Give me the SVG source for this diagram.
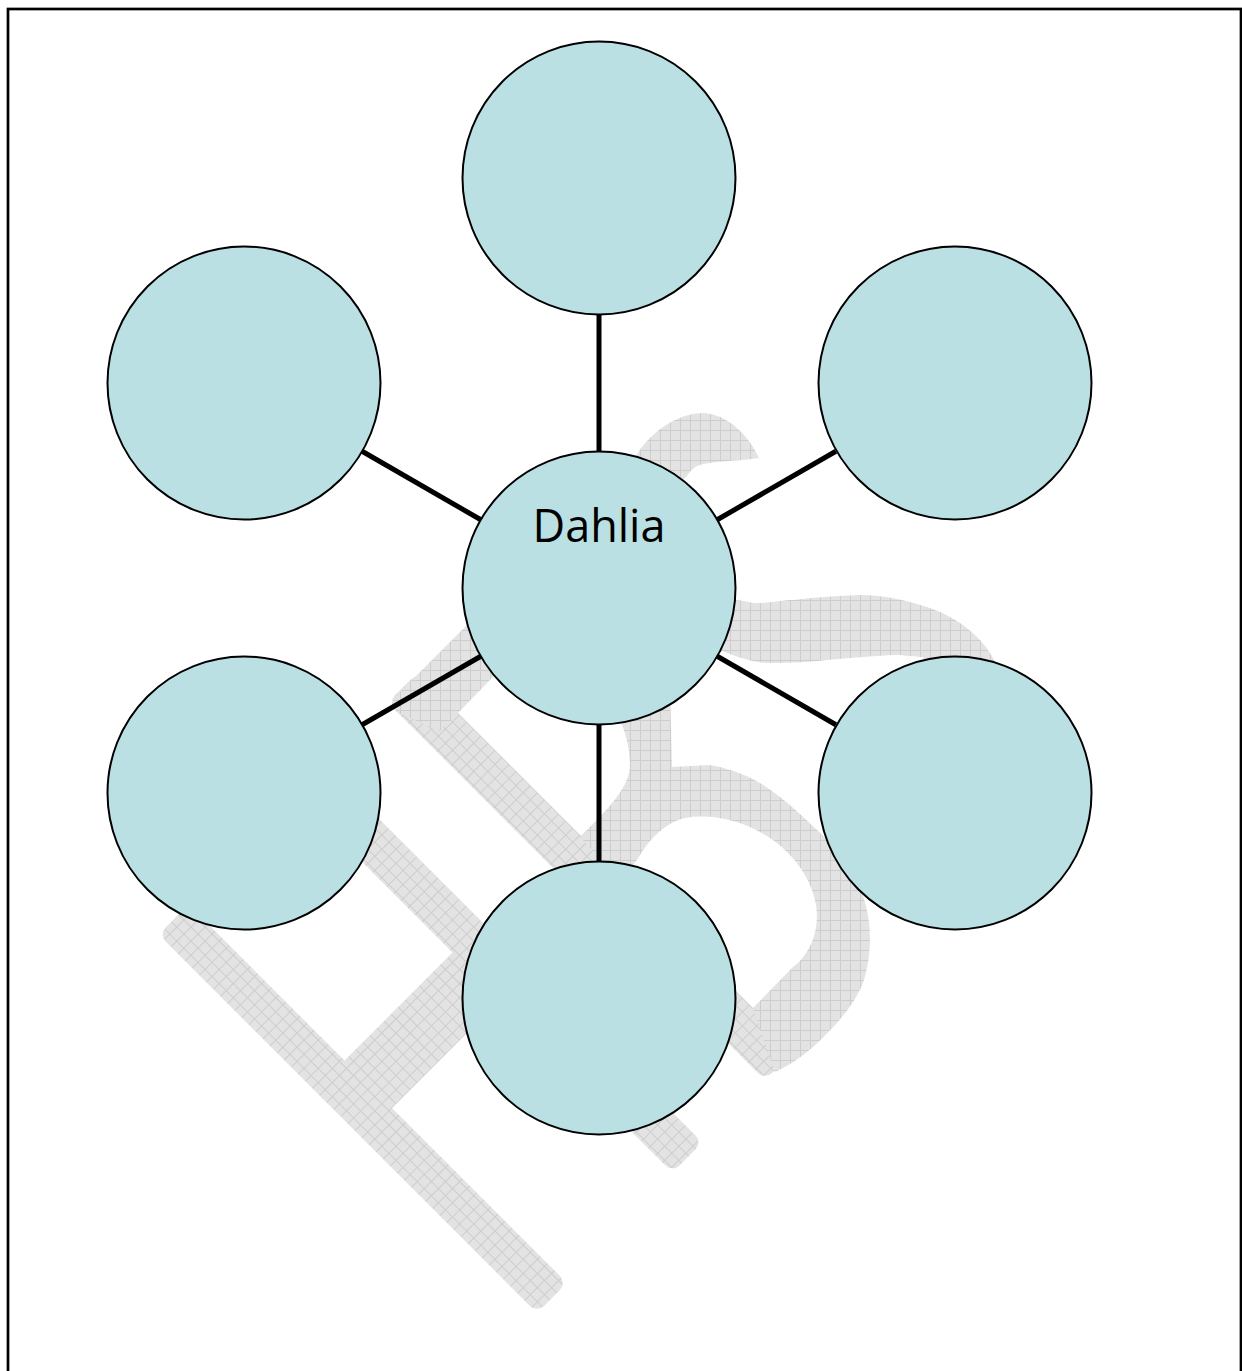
<svg xmlns="http://www.w3.org/2000/svg" width="1242" height="1371" viewBox="0 0 1242 1371">
<style>
.node{fill:#BBE0E3;stroke:#000;stroke-width:2}
.conn{stroke:#000;stroke-width:5;fill:none}
.wm{fill:url(#grid)}
.lbl{font-family:"Open Sans","Noto Sans","Liberation Sans",sans-serif;font-size:45px;fill:#000}
</style>
<defs>
<pattern id="grid" patternUnits="userSpaceOnUse" width="10" height="10">
<rect width="10" height="10" fill="#e3e3e3"/>
<path d="M0 0.5H10M0.5 0V10" stroke="#cdcdcd" stroke-width="1"/>
</pattern>
</defs>
<rect x="0" y="0" width="1242" height="1371" fill="#fff"/>
<rect x="8" y="9" width="1233" height="1400" fill="none" stroke="#000" stroke-width="2.7"/>
<g id="watermark">
<g transform="rotate(45)">
<rect class="wm" x="772.9" y="506.3" width="535.2" height="42.4" rx="10"/>
<rect class="wm" x="772.9" y="311.1" width="531.7" height="42.4" rx="10"/>
<rect class="wm" x="993.5" y="350" width="67.2" height="160"/>
<rect class="wm" x="771" y="180.3" width="533.6" height="42.4" rx="10"/>
</g>
<path class="wm" d="M397.5,712.5 Q388.5,703.5 397.5,694.5 L636,456 C650,432 678,413 703,413 C728,414 749,436 759,458 C740,461 712,461 700,465 C694,467 690,471 687,476 L458,713 L440,731 Z"/>
<path class="wm" d="M617,690 L617,713 C624,728 630,745 630,767 C628,790 605,812 580,837 L620,880 L637,860 C650,838 665,823 685,818 C715,813 745,822 770,838 C795,855 812,880 816,905 C820,930 810,955 793,967 L753,1008 L775,1072 C790,1065 803,1056 813,1047 C830,1031 852,1010 863,983 C870,962 871,940 869,922 C866,900 860,885 853,873 C842,855 830,842 815,828 C798,812 780,795 760,783 C745,774 727,768 710,765 L672,767 L670,690 Z"/>
<path class="wm" d="M700,612 C715,605 725,600 733,600 C745,600 752,604 760,603 C775,602 785,600 793,600 C810,598 830,596 860,595 C885,595 905,600 927,607 C945,613 962,622 977,637 C985,645 990,652 995,662 L1000,700 L940,700 L923,657 C910,656 900,655 893,655 C870,656 850,658 827,660 C810,662 795,663 767,663 C750,662 735,656 720,650 L700,640 Z"/>
</g>
<g id="connectors">
<line class="conn" x1="599" y1="451.5" x2="599" y2="314.5"/>
<line class="conn" x1="717.2" y1="519.75" x2="835.9" y2="451.25"/>
<line class="conn" x1="480.8" y1="519.75" x2="362.1" y2="451.25"/>
<line class="conn" x1="717.2" y1="656.25" x2="835.9" y2="724.75"/>
<line class="conn" x1="480.8" y1="656.25" x2="362.1" y2="724.75"/>
<line class="conn" x1="599" y1="724.5" x2="599" y2="861.5"/>
</g>
<g id="node-top"><circle class="node" cx="599" cy="178" r="136.5"/></g>
<g id="node-upper-left"><circle class="node" cx="244" cy="383" r="136.5"/></g>
<g id="node-upper-right"><circle class="node" cx="955" cy="383" r="136.5"/></g>
<g id="node-lower-left"><circle class="node" cx="244" cy="793" r="136.5"/></g>
<g id="node-lower-right"><circle class="node" cx="955" cy="793" r="136.5"/></g>
<g id="node-bottom"><circle class="node" cx="599" cy="998" r="136.5"/></g>
<g id="node-center"><circle class="node" cx="599" cy="588" r="136.5"/><text class="lbl" x="599" y="542" text-anchor="middle">Dahlia</text></g>
</svg>
